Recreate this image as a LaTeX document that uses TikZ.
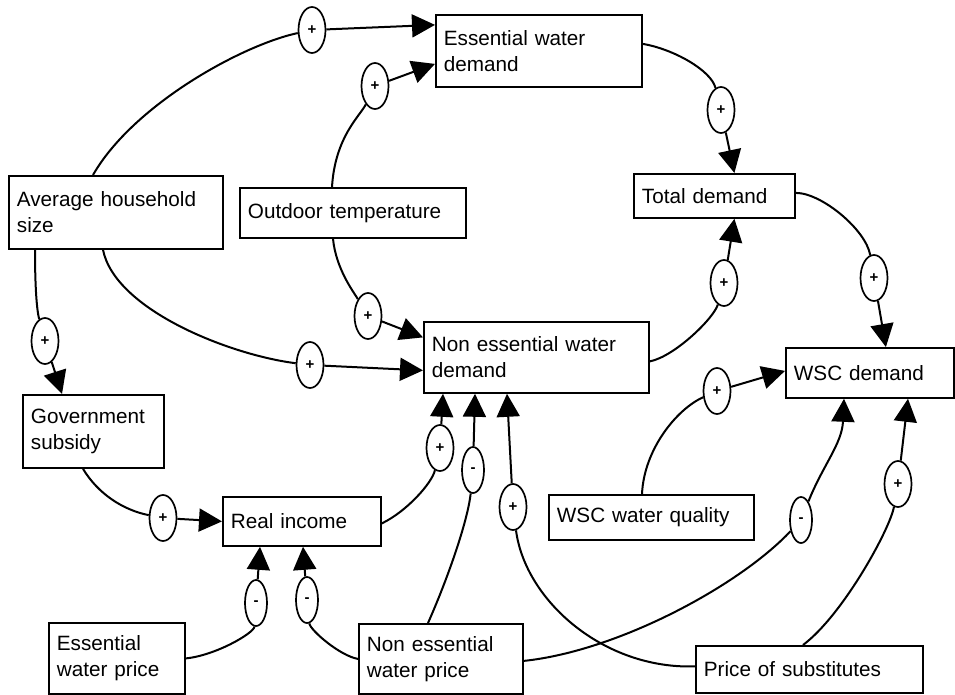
\documentclass[tikz,border=0pt]{standalone}
\usepackage{fontspec}
\setmainfont{Liberation Sans}
\usetikzlibrary{arrows.meta,shapes.geometric}
\begin{document}
\begin{tikzpicture}[x=1pt,y=-1pt,
  box/.style={draw, line width=1.8pt, inner xsep=8pt, inner ysep=0pt, align=left, anchor=north west, font=\fontsize{20.7}{26}\selectfont},
  pol/.style={draw, ellipse, line width=1.7pt, fill=white, minimum width=27pt, minimum height=46pt, inner sep=0pt, font=\fontsize{15}{15}\selectfont\bfseries},
  neg/.style={pol, minimum width=22pt},
  link/.style={line width=2pt},
  arr/.style={link, -{Triangle[length=23pt,width=23pt]}},
]
\useasboundingbox (0,0) rectangle (955,695);
\fill[white] (0,0) rectangle (955,695);

% boxes
\node[box, minimum width=214pt, minimum height=73pt, text width=198pt] (ahs) at (8,175) {Average household\\size};
\node[box, minimum width=226pt, minimum height=50pt, text width=210pt] (otemp) at (239,187) {Outdoor temperature};
\node[box, minimum width=206pt, minimum height=72pt, text width=190pt] (ewd) at (435,14) {Essential water\\demand};
\node[box, minimum width=161pt, minimum height=44pt, text width=145pt] (td) at (633,173) {Total demand};
\node[box, minimum width=225pt, minimum height=71pt, text width=209pt] (ned) at (423,321) {Non essential water\\demand};
\node[box, minimum width=168pt, minimum height=50pt, text width=152pt] (wscd) at (785,347) {WSC demand};
\node[box, minimum width=141pt, minimum height=73pt, text width=125pt] (gs) at (22,394) {Government\\subsidy};
\node[box, minimum width=158pt, minimum height=49pt, text width=142pt] (ri) at (222,496) {Real income};
\node[box, minimum width=205pt, minimum height=45pt, text width=189pt] (wscq) at (548,494) {WSC water quality};
\node[box, minimum width=136pt, minimum height=71pt, text width=120pt] (ewp) at (48,622) {Essential\\water price};
\node[box, minimum width=164pt, minimum height=70pt, text width=148pt] (newp) at (358,623) {Non essential\\water price};
\node[box, minimum width=227pt, minimum height=47pt, text width=211pt] (pos) at (695,645) {Price of substitutes};

% polarity ellipses
\node[pol] (e1) at (312,30) {+};
\node[pol] (e2) at (375,86) {+};
\node[pol] (e3) at (721,110) {+};
\node[pol] (e4) at (724,283) {+};
\node[pol] (e5) at (874,278) {+};
\node[pol] (e6) at (310,365) {+};
\node[pol] (e7) at (368,316) {+};
\node[pol] (e8) at (45,341) {+};
\node[pol] (e9) at (163,518) {+};
\node[pol] (e10) at (440,448) {+};
\node[neg] (e11) at (473,470) {-};
\node[pol] (e12) at (513,507) {+};
\node[neg] (e13) at (307,600) {-};
\node[neg] (e14) at (256,603) {-};
\node[neg] (e15) at (801,520) {-};
\node[pol] (e16) at (898,484) {+};
\node[pol] (e17) at (717,391) {+};

% A: household size -> essential water demand
\draw[link] ([xshift=85pt]ahs.north west) .. controls +(40,-70) and +(-70,15) .. (e1);
\draw[arr] (e1) -- ([yshift=26pt]ewd.west);
% B: outdoor temperature -> essential water demand
\draw[link] ([xshift=93pt]otemp.north west) .. controls +(3,-50) and +(-15,30) .. (e2);
\draw[arr] (e2) -- ([yshift=-13pt]ewd.west);
% C: essential water demand -> total demand
\draw[link] ([yshift=7pt]ewd.east) .. controls +(30,5) and +(-10,-40) .. (e3);
\draw[arr] (e3) -- ([xshift=20pt]td.north);
% D: non essential water demand -> total demand
\draw[link] ([yshift=-4pt]ned.east) .. controls +(25,-5) and +(-10,35) .. (e4);
\draw[arr] (e4) -- ([xshift=20pt]td.south);
% E: total demand -> WSC demand
\draw[link] ([yshift=3pt]td.east) .. controls +(26,0) and +(-8,-48) .. (e5);
\draw[arr] (e5) -- ([xshift=16pt]wscd.north);
% F: household size -> non essential water demand
\draw[link] ([xshift=95pt]ahs.south west) .. controls +(12,60) and +(-80,-10) .. (e6);
\draw[arr] (e6) -- ([yshift=-13pt]ned.west);
% G: outdoor temperature -> non essential water demand
\draw[link] ([xshift=94pt]otemp.south west) .. controls +(3,30) and +(-15,-25) .. (e7);
\draw[arr] (e7) -- ([yshift=20pt]ned.west);
% H: household size -> government subsidy
\draw[link] ([xshift=27pt]ahs.south west) .. controls +(0,40) and +(-8,-30) .. (e8);
\draw[arr] (e8) -- ([xshift=40pt]gs.north west);
% I: government subsidy -> real income
\draw[link] ([xshift=61pt]gs.south west) .. controls +(15,25) and +(-40,-8) .. (e9);
\draw[arr] (e9) -- (ri.west);
% J: real income -> non essential water demand
\draw[link] ([yshift=-2pt]ri.east) .. controls +(25,-12) and +(-8,35) .. (e10);
\draw[arr] (e10) -- ([xshift=20pt]ned.south west);
% K: non essential water price -> non essential water demand
\draw[link] ([xshift=70pt]newp.north west) .. controls +(20,-45) and +(-5,50) .. (e11);
\draw[arr] (e11) -- ([xshift=52pt]ned.south west);
% L: price of substitutes -> non essential water demand
\draw[link] ([yshift=3pt]pos.west) .. controls +(-92,3) and +(12,93) .. (e12);
\draw[arr] (e12) -- ([xshift=84pt]ned.south west);
% M: non essential water price -> real income
\draw[link] (newp.west) .. controls +(-18,-3) and +(3,30) .. (e13);
\draw[arr] (e13) -- ([xshift=81pt]ri.south west);
% N: essential water price -> real income
\draw[link] (ewp.east) .. controls +(30,-3) and +(-2,30) .. (e14);
\draw[arr] (e14) -- ([xshift=38pt]ri.south west);
% O: non essential water price -> WSC demand
\draw[link] ([yshift=-2pt]newp.east) .. controls +(95,-10) and +(-61,65) .. (e15);
\draw[arr] (e15) .. controls +(22,-55) and +(-2,45) .. ([xshift=59pt]wscd.south west);
% P: price of substitutes -> WSC demand
\draw[link] ([xshift=108pt]pos.north west) .. controls +(40,-30) and +(-8,45) .. (e16);
\draw[arr] (e16) -- ([xshift=123pt]wscd.south west);
% Q: WSC water quality -> WSC demand
\draw[link] ([xshift=94pt]wscq.north west) .. controls +(2,-45) and +(-40,18) .. (e17);
\draw[arr] (e17) -- ([yshift=2pt]wscd.west);
\end{tikzpicture}
\end{document}
